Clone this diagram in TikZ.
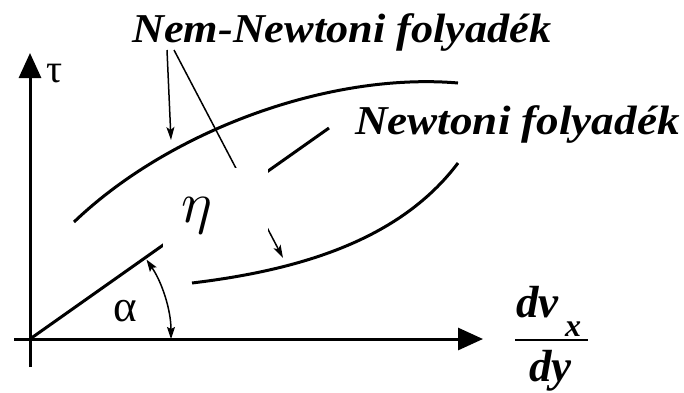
\documentclass[tikz,border=0pt]{standalone}
\usepackage{fontspec}
\setmainfont{Liberation Serif}
\usetikzlibrary{arrows.meta}
\begin{document}
\begin{tikzpicture}[x=1pt,y=-1pt,
  axisline/.style={line width=3pt,-{Triangle[length=25pt,width=22pt]}},
  curveline/.style={line width=3pt},
  pointer/.style={line width=1.5pt,-{Stealth[length=13pt,width=8pt,inset=3pt]}},
  lbl/.style={font=\fontsize{41}{41}\selectfont\bfseries\itshape,inner sep=0pt},
  frac/.style={font=\fontsize{45}{45}\selectfont\bfseries\itshape,inner sep=0pt},
  greek/.style={font=\fontsize{40}{40}\selectfont,inner sep=0pt}]
\useasboundingbox (0,0) rectangle (684,392);
\coordinate (O) at (30,339);
\coordinate (yb) at (30,367);
\coordinate (yt) at (30,53);
\coordinate (xl) at (14,339);
\coordinate (xr) at (483,339);
% axes
\draw[axisline] (yb) -- (yt);
\draw[axisline] (xl) -- (xr);
% curves
\coordinate (u0) at (74,222);
\coordinate (u1) at (458,83);
\draw[curveline] (u0) .. controls (170,130) and (330,72) .. (u1);
\coordinate (l0) at (192,283);
\coordinate (l1) at (458,163);
\draw[curveline] (l0) .. controls (300,270) and (400,240) .. (l1);
\coordinate (n1) at (329,128);
\draw[curveline] (O) -- (n1);
% labels
\node[lbl,anchor=base west] (nn) at (132,42) {\scalebox{1.08}[1]{Nem-Newtoni folyadék}};
\node[lbl,anchor=base west] (nt) at (355,134) {\scalebox{1.10}[1]{Newtoni folyadék}};
\coordinate (a1s) at (167,50);
\coordinate (a1e) at (171,140);
\coordinate (a2s) at (174,50);
\coordinate (a2e) at (283,258);
\draw[pointer] (a1s) -- (a1e);
\draw[pointer] (a2s) -- (a2e);
% white patch with eta
\node[fill=white,draw=none,minimum width=105pt,minimum height=80pt,inner sep=0pt] (patch) at (215.5,208) {};
\node[inner sep=0pt] (eta) at (197,216) {\scalebox{5.8}{$\eta$}};
% angle
\draw[line width=1.5pt,{Stealth[length=12pt,width=8pt,inset=2pt]}-{Stealth[length=12pt,width=8pt,inset=2pt]}]
  (O) ++(141,0) arc[start angle=0,end angle=-34.3,radius=141];
\node[greek,font=\fontsize{45}{45}\selectfont,anchor=base west] (alpha) at (113,321) {α};
\node[greek,anchor=base west] (tau) at (46,82) {τ};
% fraction
\node[frac,anchor=base west] (num) at (516,317) {dv};
\node[frac,font=\fontsize{32}{32}\selectfont\bfseries\itshape,anchor=base west] (sub) at (565,336) {x};
\coordinate (b0) at (515,340);
\coordinate (b1) at (588,340);
\draw[line width=1.5pt] (b0) -- (b1);
\node[frac,anchor=base west] (den) at (529,381) {dy};
\end{tikzpicture}
\end{document}
